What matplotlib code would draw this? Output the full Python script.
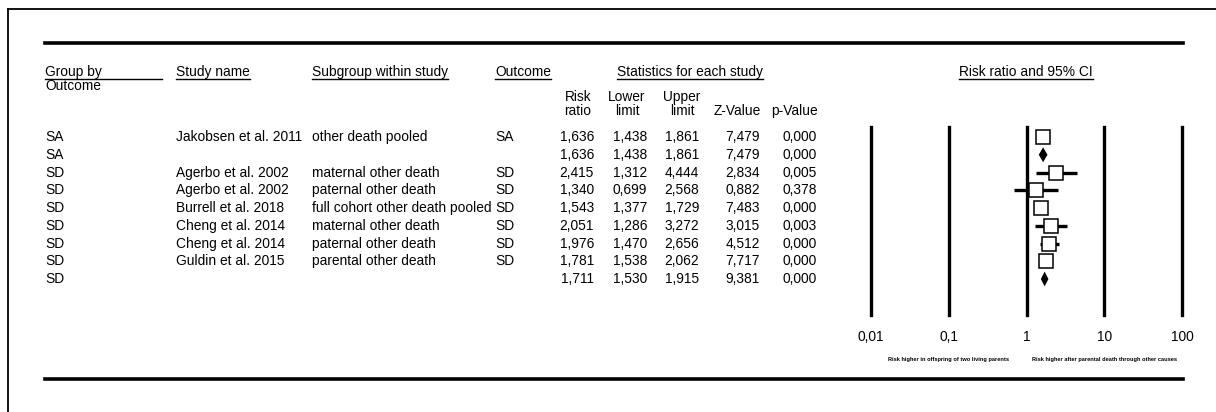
import matplotlib
matplotlib.use('Agg')
import matplotlib.pyplot as plt

plt.rcParams['font.family'] = ['Liberation Sans', 'DejaVu Sans']

# Data
group = ['SA', 'SA', 'SD', 'SD', 'SD', 'SD', 'SD', 'SD', 'SD']
study = ['Jakobsen et al. 2011', '', 'Agerbo et al. 2002', 'Agerbo et al. 2002',
         'Burrell et al. 2018', 'Cheng et al. 2014', 'Cheng et al. 2014',
         'Guldin et al. 2015', '']
subgroup = ['other death pooled', '', 'maternal other death', 'paternal other death',
            'full cohort other death pooled', 'maternal other death',
            'paternal other death', 'parental other death', '']
outcome = ['SA', '', 'SD', 'SD', 'SD', 'SD', 'SD', 'SD', '']
risk_ratio = [1.636, 1.636, 2.415, 1.340, 1.543, 2.051, 1.976, 1.781, 1.711]
lower = [1.438, 1.438, 1.312, 0.699, 1.377, 1.286, 1.470, 1.538, 1.530]
upper = [1.861, 1.861, 4.444, 2.568, 1.729, 3.272, 2.656, 2.062, 1.915]
z_value = [7.479, 7.479, 2.834, 0.882, 7.483, 3.015, 4.512, 7.717, 9.381]
p_value = [0.000, 0.000, 0.005, 0.378, 0.000, 0.003, 0.000, 0.000, 0.000]
is_summary = [False, True, False, False, False, False, False, False, True]
axis_ticks = [0.01, 0.1, 1, 10, 100]
axis_labels = ['0,01', '0,1', '1', '10', '100']
note_left = 'Risk higher in offspring of two living parents'
note_right = 'Risk higher after parental death through other causes'

W, H = 1216, 412
fig = plt.figure(figsize=(W / 100, H / 100), dpi=100)

# background axes in pixel coordinates for the table part
bg = fig.add_axes([0, 0, 1, 1])
bg.set_xlim(0, W)
bg.set_ylim(H, 0)
bg.axis('off')

fs = 9.9
row0, step = 137, 17.75


def fmt(v):
    return f'{v:.3f}'.replace('.', ',')


# frame and thick rules
bg.plot([8, W], [9, 9], color='black', lw=1.3)
bg.plot([8, 8], [9, H], color='black', lw=1.3)
bg.plot([45, 1183], [43, 43], color='black', lw=2.6)
bg.plot([45, 1183], [379, 379], color='black', lw=2.6)

# headers (underlined)
fig.canvas.draw()
renderer = fig.canvas.get_renderer()
inv = bg.transData.inverted()
head_y = 72
headers = [(45, 'Group by', 'left', 162), (176, 'Study name', 'left', None),
           (312, 'Subgroup within study', 'left', None), (495, 'Outcome', 'left', None),
           (690, 'Statistics for each study', 'center', None),
           (1026, 'Risk ratio and 95% CI', 'center', None)]
for x, label, ha, end in headers:
    t = bg.text(x, head_y, label, ha=ha, va='center', fontsize=fs)
    bb = t.get_window_extent(renderer)
    (x0, _), (x1, _) = inv.transform([(bb.x0, bb.y0), (bb.x1, bb.y0)])
    if end is not None:
        x1 = end
    bg.plot([x0, x1], [head_y + 6.5, head_y + 6.5], color='black', lw=1.0)
bg.text(45, head_y + 14, 'Outcome', ha='left', va='center', fontsize=fs)

sub_heads = [(578, 'Risk\nratio'), (627, 'Lower\nlimit'), (682, 'Upper\nlimit'),
             (737, '\nZ-Value'), (794, '\np-Value')]
for x, label in sub_heads:
    bg.text(x, 104, label, ha='center', va='center', fontsize=fs, linespacing=1.05)

# table rows
num_cols = [(594, risk_ratio), (647, lower), (699, upper), (760, z_value), (817, p_value)]
for i in range(len(group)):
    y = row0 + i * step
    bg.text(45, y, group[i], ha='left', va='center', fontsize=fs)
    bg.text(176, y, study[i], ha='left', va='center', fontsize=fs)
    bg.text(312, y, subgroup[i], ha='left', va='center', fontsize=fs)
    bg.text(495, y, outcome[i], ha='left', va='center', fontsize=fs)
    for x, vals in num_cols:
        bg.text(x, y, fmt(vals[i]), ha='right', va='center', fontsize=fs)

# forest plot axes
fx0, fx1 = 871, 1182
fy_top, fy_bot = 127, 315
ax = fig.add_axes([fx0 / W, (H - fy_bot) / H, (fx1 - fx0) / W, (fy_bot - fy_top) / H])
ax.set_xscale('log')
ax.set_xlim(axis_ticks[0], axis_ticks[-1])
ax.set_ylim((fy_bot - row0) / step, (fy_top - row0) / step)
for s in ax.spines.values():
    s.set_visible(False)
ax.set_yticks([])
ax.set_xticks(axis_ticks)
ax.set_xticklabels(axis_labels, fontsize=fs)
ax.minorticks_off()
ax.tick_params(axis='x', length=0, pad=11)
ax.patch.set_alpha(0)
for t in axis_ticks:
    ax.axvline(t, color='black', lw=2.4, clip_on=False, zorder=1)

for i in range(len(risk_ratio)):
    if is_summary[i]:
        ax.fill([lower[i], risk_ratio[i], upper[i], risk_ratio[i]],
                [i, i - 0.42, i, i + 0.42], color='black', zorder=3, lw=0)
    else:
        ax.plot([lower[i], upper[i]], [i, i], color='black', lw=2.4,
                solid_capstyle='butt', zorder=2)
        ax.plot(risk_ratio[i], i, marker='s', markersize=10.5, markerfacecolor='white',
                markeredgecolor='black', markeredgewidth=1.1, zorder=3)

# notes under the axis
bg.text(948, 359, note_left, ha='center', va='center', fontsize=4.1, fontweight='bold')
bg.text(1104, 359, note_right, ha='center', va='center', fontsize=4.1, fontweight='bold')

fig.savefig('out.png', dpi=100)
